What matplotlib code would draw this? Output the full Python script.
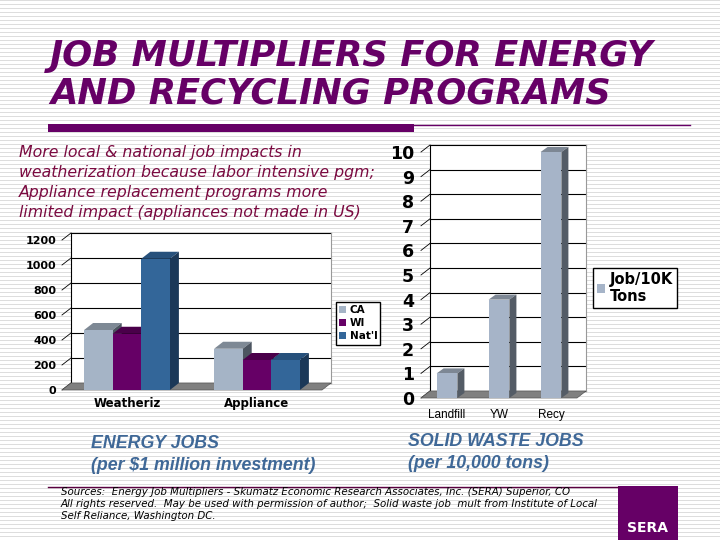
import numpy as np
import matplotlib
matplotlib.use('Agg')
import matplotlib.pyplot as plt
from matplotlib.patches import Polygon, Rectangle

# Daten Energie (Jobs pro 1 Mio $)
energy_cats = ['Weatheriz', 'Appliance']
energy_series = ['CA', 'WI', "Nat'l"]
ca_jobs = [480, 330]
wi_jobs = [450, 240]
natl_jobs = [1050, 240]

# Daten Abfall (Jobs pro 10.000 t)
waste_cats = ['Landfill', 'YW', 'Recy']
waste_jobs = [1, 4, 10]
waste_label = 'Job/10K\nTons'

title_lines = ['JOB MULTIPLIERS FOR ENERGY', 'AND RECYCLING PROGRAMS']
para_lines = ['More local & national job impacts in',
              'weatherization because labor intensive pgm;',
              'Appliance replacement programs more',
              'limited impact (appliances not made in US)']
source_lines = ['Sources:  Energy Job Multipliers - Skumatz Economic Research Associates, Inc. (SERA) Superior, CO',
                'All rights reserved.  May be used with permission of author;  Solid waste job  mult from Institute of Local',
                'Self Reliance, Washington DC.']

PURPLE = '#660066'
BLUE_TXT = '#3f6897'
W, H = 720, 540


def fx(x):
    return x / W


def fy(y):
    return 1 - y / H


def box(x0, y0, x1, y1):
    # Pixel-Box (oben links / unten rechts) -> Figurenkoordinaten
    return [fx(x0), fy(y1), fx(x1) - fx(x0), fy(y0) - fy(y1)]


def draw_room(ax, xmax, ymax, ticks, dx, dy):
    # Rueckwand, Gitterlinien, Boden
    ax.add_patch(Polygon([(dx, dy), (xmax + dx, dy), (xmax + dx, ymax + dy), (dx, ymax + dy)],
                         closed=True, facecolor='white', edgecolor='none', zorder=0.5, clip_on=False))
    for t in ticks:
        ax.plot([dx, xmax + dx], [t + dy, t + dy], color='black', lw=0.8, zorder=0.6, clip_on=False)
        ax.plot([0, dx], [t, t + dy], color='black', lw=0.6, zorder=0.6, clip_on=False)
    ax.plot([dx, dx], [dy, ymax + dy], color='black', lw=0.8, zorder=0.6, clip_on=False)
    ax.plot([xmax + dx, xmax + dx], [dy, ymax + dy], color='#999999', lw=0.8, zorder=0.6, clip_on=False)
    ax.add_patch(Polygon([(0, 0), (xmax, 0), (xmax + dx, dy), (dx, dy)], closed=True,
                         facecolor='#808080', edgecolor='#555555', lw=0.5, zorder=0.7, clip_on=False))


def add_3d(ax, bars, dx, dy, top, side, z):
    for b in bars:
        x0, w, h = b.get_x(), b.get_width(), b.get_height()
        ax.add_patch(Polygon([(x0, h), (x0 + w, h), (x0 + w + dx, h + dy), (x0 + dx, h + dy)],
                             closed=True, facecolor=top, edgecolor='none', zorder=z, clip_on=False))
        ax.add_patch(Polygon([(x0 + w, 0), (x0 + w + dx, dy), (x0 + w + dx, h + dy), (x0 + w, h)],
                             closed=True, facecolor=side, edgecolor='none', zorder=z, clip_on=False))
        b.set_zorder(z + 0.05)
        b.set_clip_on(False)


fig = plt.figure(figsize=(7.2, 5.4), dpi=100)

# gestreifter Hintergrund
bg = fig.add_axes([0, 0, 1, 1], zorder=-10)
stripes = np.ones((H, W, 3))
stripes[::4, :, :] = 0.87
bg.imshow(stripes, extent=[0, W, H, 0], interpolation='nearest', aspect='auto')
bg.set_xlim(0, W)
bg.set_ylim(H, 0)
bg.axis('off')

# Titel
fig.text(fx(50), fy(66), title_lines[0], fontsize=25.5, fontweight='bold', style='italic',
         color=PURPLE, family='DejaVu Sans', va='baseline')
fig.text(fx(50), fy(103), title_lines[1], fontsize=25.5, fontweight='bold', style='italic',
         color=PURPLE, family='DejaVu Sans', va='baseline')
bg.add_patch(Rectangle((48, 124), 366, 8, facecolor=PURPLE, edgecolor='none'))
bg.plot([414, 690], [124.5, 124.5], color=PURPLE, lw=1)

# Beschreibung
for i, line in enumerate(para_lines):
    fig.text(fx(19), fy(152 + i * 20.3), line, fontsize=11.3, style='italic',
             color='#7a0a40', family='DejaVu Sans', va='center')

# --- Energie-Diagramm ---
ax1 = fig.add_axes(box(62, 240, 322, 390))
ax1.set_xlim(0, 2)
ax1.set_ylim(0, 1200)
e_ticks = np.arange(0, 1201, 200)
dx1, dy1 = 9 / 130, 7 * 8
draw_room(ax1, 2, 1200, e_ticks, dx1, dy1)

x = np.arange(len(energy_cats))
bw = 0.22
fronts = ['#a5b4c6', PURPLE, '#336699']
tops = ['#7e8995', '#4a004a', '#27517c']
sides = ['#4c5560', '#2e002e', '#1b3858']
handles = []
for i, vals in enumerate([ca_jobs, wi_jobs, natl_jobs]):
    bars = ax1.bar(x + 0.5 + (i - 1.5) * bw, vals, bw, align='edge', color=fronts[i], lw=0)
    add_3d(ax1, bars, dx1, dy1, tops[i], sides[i], 2 + i * 0.1)
    handles.append(bars)

ax1.set_yticks(e_ticks)
ax1.set_yticklabels([str(t) for t in e_ticks], fontsize=8, fontweight='bold')
ax1.set_xticks(x + 0.5)
ax1.set_xticklabels(energy_cats, fontsize=8.5, fontweight='bold')
ax1.tick_params(length=0, pad=4)
ax1.tick_params(axis='x', pad=5)
for s in ax1.spines.values():
    s.set_visible(False)
ax1.patch.set_alpha(0)

fig.legend(handles, energy_series, loc='upper left', bbox_to_anchor=(fx(336), fy(302)),
           frameon=True, fancybox=False, edgecolor='black', framealpha=1,
           prop={'weight': 'bold', 'size': 7.5}, handlelength=0.7, handleheight=0.7,
           handletextpad=0.3, borderpad=0.3, labelspacing=0.3, borderaxespad=0)

# --- Abfall-Diagramm ---
ax2 = fig.add_axes(box(421, 152, 577, 398))
ax2.set_xlim(0, 3)
ax2.set_ylim(0, 10)
w_ticks = np.arange(0, 11, 1)
dx2, dy2 = 9 / 52, 7 / 24.6
draw_room(ax2, 3, 10, w_ticks, dx2, dy2)

xw = np.arange(len(waste_cats))
bars2 = ax2.bar(xw + 0.5, waste_jobs, 0.4, color='#a6b4c8', lw=0)
add_3d(ax2, bars2, 7 / 52, 5 / 24.6, '#7d8794', '#545c66', 2)

ax2.set_yticks(w_ticks)
ax2.set_yticklabels([str(t) for t in w_ticks], fontsize=12.5, fontweight='bold')
ax2.set_xticks(xw + 0.5)
ax2.set_xticklabels(waste_cats, fontsize=8.5, family=['Liberation Sans Narrow', 'Liberation Sans'])
ax2.tick_params(length=0, pad=5)
ax2.tick_params(axis='x', pad=8)
for s in ax2.spines.values():
    s.set_visible(False)
ax2.patch.set_alpha(0)

fig.legend([bars2], [waste_label], loc='upper left', bbox_to_anchor=(fx(593), fy(268)),
           frameon=True, fancybox=False, edgecolor='black', framealpha=1,
           prop={'weight': 'bold', 'size': 10.5}, handlelength=0.6, handleheight=0.6,
           handletextpad=0.3, borderpad=0.25, borderaxespad=0)

# Untertitel
sub = dict(fontsize=12.8, fontweight='bold', style='italic', color=BLUE_TXT,
           family='Liberation Sans', va='center')
fig.text(fx(91), fy(443), 'ENERGY JOBS', **sub)
fig.text(fx(91), fy(466), '(per $1 million investment)', **sub)
fig.text(fx(408), fy(441), 'SOLID WASTE JOBS', **sub)
fig.text(fx(408), fy(464), '(per 10,000 tons)', **sub)

# Quellen
bg.plot([48, 618], [487, 487], color='#5a0040', lw=1)
for i, line in enumerate(source_lines):
    fig.text(fx(61), fy(492 + i * 12), line, fontsize=7.4, style='italic',
             color='black', family='DejaVu Sans', va='center')

bg.add_patch(Rectangle((618, 486), 60, 54, facecolor=PURPLE, edgecolor='none'))
fig.text(fx(648), fy(528), 'SERA', fontsize=10, fontweight='bold', color='white',
         ha='center', va='center', family='DejaVu Sans')

fig.savefig('out.png', dpi=100)
